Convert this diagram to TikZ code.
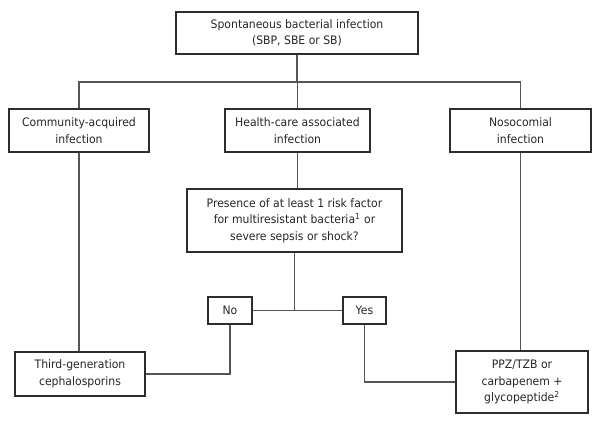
\documentclass[tikz,border=0pt]{standalone}
\usepackage{fontspec}
\setmainfont{DejaVu Sans}[FakeStretch=0.93]
\usepackage{tikz}
\usetikzlibrary{positioning}
\definecolor{cline}{RGB}{85,85,85}
\definecolor{cbox}{RGB}{45,45,45}

\begin{document}
\begin{tikzpicture}[x=0.025cm, y=-0.025cm,
    box/.style={draw=cbox, line width=0.75pt, align=center, inner sep=0pt,
                font=\fontsize{8.3}{11.8}\selectfont, text=black!85},
    link/.style={draw=cline, line width=0.9pt}
  ]
  \useasboundingbox (0,0) rectangle (600,425);

  % Top
  \node[box, minimum width=242*0.025cm, minimum height=42*0.025cm] (sbi) at (297,33)
    {Spontaneous bacterial infection\\(SBP, SBE or SB)};

  % Acquisition
  \node[box, minimum width=140*0.025cm, minimum height=43*0.025cm] (comm) at (79,130.5)
    {Community-acquired\\infection};
  \node[box, minimum width=145*0.025cm, minimum height=43*0.025cm] (hca) at (297.5,130.5)
    {Health-care associated\\infection};
  \node[box, minimum width=141*0.025cm, minimum height=43*0.025cm] (noso) at (520.5,130.5)
    {Nosocomial\\infection};
  \coordinate (bus) at (297,82);
  \draw[link] (sbi.south) -- (bus);
  \draw[link] (comm.north) |- (bus) -| (noso.north);
  \draw[link] (hca.north) -- (hca.north |- bus);

  % Question
  \node[box, minimum width=215*0.025cm, minimum height=63*0.025cm] (risk) at (294.5,220.5)
    {Presence of at least 1 risk factor\\for multiresistant bacteria\textsuperscript{1} or\\severe sepsis or shock?};
  \draw[link] (hca.south) -- (hca.south |- risk.north);

  \node[box, minimum width=44*0.025cm, minimum height=27*0.025cm] (no) at (230,310.5) {No};
  \node[box, minimum width=43*0.025cm, minimum height=27*0.025cm] (yes) at (364.5,310.5) {Yes};
  \draw[link] (no.east) -- (yes.west);
  \draw[link] (risk.south) -- (risk.south |- no.east);

  % Treatment
  \node[box, minimum width=130*0.025cm, minimum height=44*0.025cm] (third) at (80,374)
    {Third-generation\\cephalosporins};
  \node[box, minimum width=132*0.025cm, minimum height=62*0.025cm] (ppz) at (522,382)
    {PPZ/TZB or\\carbapenem +\\glycopeptide\textsuperscript{2}};
  \draw[link] (comm.south) -- (comm.south |- third.north);
  \draw[link] (no.south) |- (third.east);
  \draw[link] (yes.south) |- (ppz.west);
  \draw[link] (noso.south) -- (noso.south |- ppz.north);
\end{tikzpicture}
\end{document}
